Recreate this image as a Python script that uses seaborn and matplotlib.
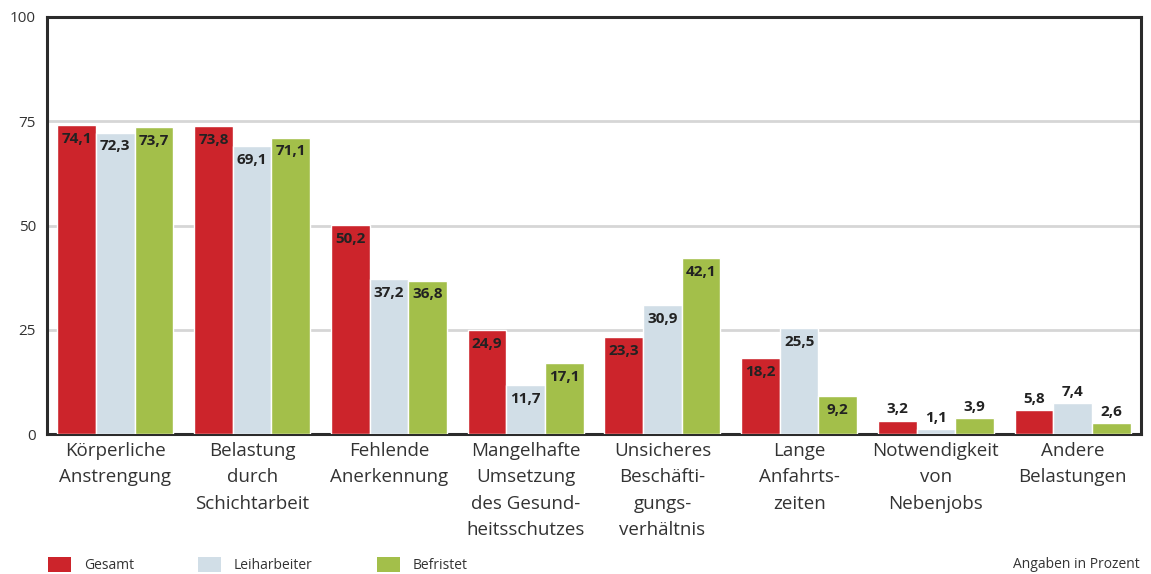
import pandas as pd
import matplotlib
matplotlib.use('Agg')
import matplotlib.pyplot as plt
import matplotlib.patches as mpatches
import seaborn as sns

# data
categories = [
    'Körperliche\nAnstrengung',
    'Belastung\ndurch\nSchichtarbeit',
    'Fehlende\nAnerkennung',
    'Mangelhafte\nUmsetzung\ndes Gesund-\nheitsschutzes',
    'Unsicheres\nBeschäfti-\ngungs-\nverhältnis',
    'Lange\nAnfahrts-\nzeiten',
    'Notwendigkeit\nvon\nNebenjobs',
    'Andere\nBelastungen',
]
series = ['Gesamt', 'Leiharbeiter', 'Befristet']
gesamt = [74.1, 73.8, 50.2, 24.9, 23.3, 18.2, 3.2, 5.8]
leiharbeiter = [72.3, 69.1, 37.2, 11.7, 30.9, 25.5, 1.1, 7.4]
befristet = [73.7, 71.1, 36.8, 17.1, 42.1, 9.2, 3.9, 2.6]
yticks = [0, 25, 50, 75, 100]
colors = ['#cc242b', '#d1dee7', '#a3bf4a']

rows = []
for s, vals in zip(series, [gesamt, leiharbeiter, befristet]):
    for c, v in zip(categories, vals):
        rows.append({'Kategorie': c, 'Gruppe': s, 'Wert': v})
df = pd.DataFrame(rows)

sns.set_style('white')
plt.rcParams['font.family'] = ['Open Sans', 'DejaVu Sans']

fig = plt.figure(figsize=(11.51, 5.74), dpi=100)
ax = fig.add_axes([47 / 1151, 140 / 574, 1094 / 1151, 417 / 574])

sns.barplot(data=df, x='Kategorie', y='Wert', hue='Gruppe', order=categories,
            hue_order=series, palette=colors, width=0.85, edgecolor='white',
            linewidth=1, saturation=1, legend=False, ax=ax, zorder=3)

# value labels: inside the bar top for tall bars, above for short ones
for cont in ax.containers:
    for bar in cont:
        h = bar.get_height()
        txt = f'{h:.1f}'.replace('.', ',')
        xc = bar.get_x() + bar.get_width() / 2
        if h >= 8:
            ax.annotate(txt, (xc, h), xytext=(0, -5), textcoords='offset points',
                        ha='center', va='top', fontsize=11, fontweight='bold',
                        color='#222222', zorder=5)
        else:
            ax.annotate(txt, (xc, h), xytext=(0, 3), textcoords='offset points',
                        ha='center', va='bottom', fontsize=11, fontweight='bold',
                        color='#222222', zorder=5)

ax.set_xlim(-0.5, 7.5)
ax.set_ylim(0, 100)
ax.set_yticks(yticks)
ax.set_yticklabels([str(t) for t in yticks], fontsize=11, color='#333333')
ax.set_xlabel('')
ax.set_ylabel('')
ax.tick_params(axis='x', length=0, pad=6, labelsize=13.5, labelcolor='#333333')
ax.tick_params(axis='y', length=7, width=2, color='#2b2b2b', pad=1)
for lab in ax.get_xticklabels():
    lab.set_linespacing(1.58)
    lab.set_va('top')

for t in [25, 50, 75]:
    ax.axhline(t, color='#d6d6d6', lw=2, zorder=1)

for sp in ax.spines.values():
    sp.set_visible(True)
    sp.set_color('#2b2b2b')
    sp.set_linewidth(2.2)

handles = [mpatches.Patch(facecolor=c, edgecolor='none', label=s) for s, c in zip(series, colors)]
fig.legend(handles=handles, loc='lower left', bbox_to_anchor=(47 / 1151, 0.0),
           ncol=3, frameon=False, fontsize=10, handlelength=1.7, handleheight=1.25,
           handletextpad=0.9, columnspacing=4.6, borderpad=0, borderaxespad=0.05,
           labelcolor='#333333')

fig.text(1140 / 1151, 9 / 574, 'Angaben in Prozent', ha='right', va='center',
         fontsize=10, color='#333333')

fig.savefig('out.png', dpi=100)
